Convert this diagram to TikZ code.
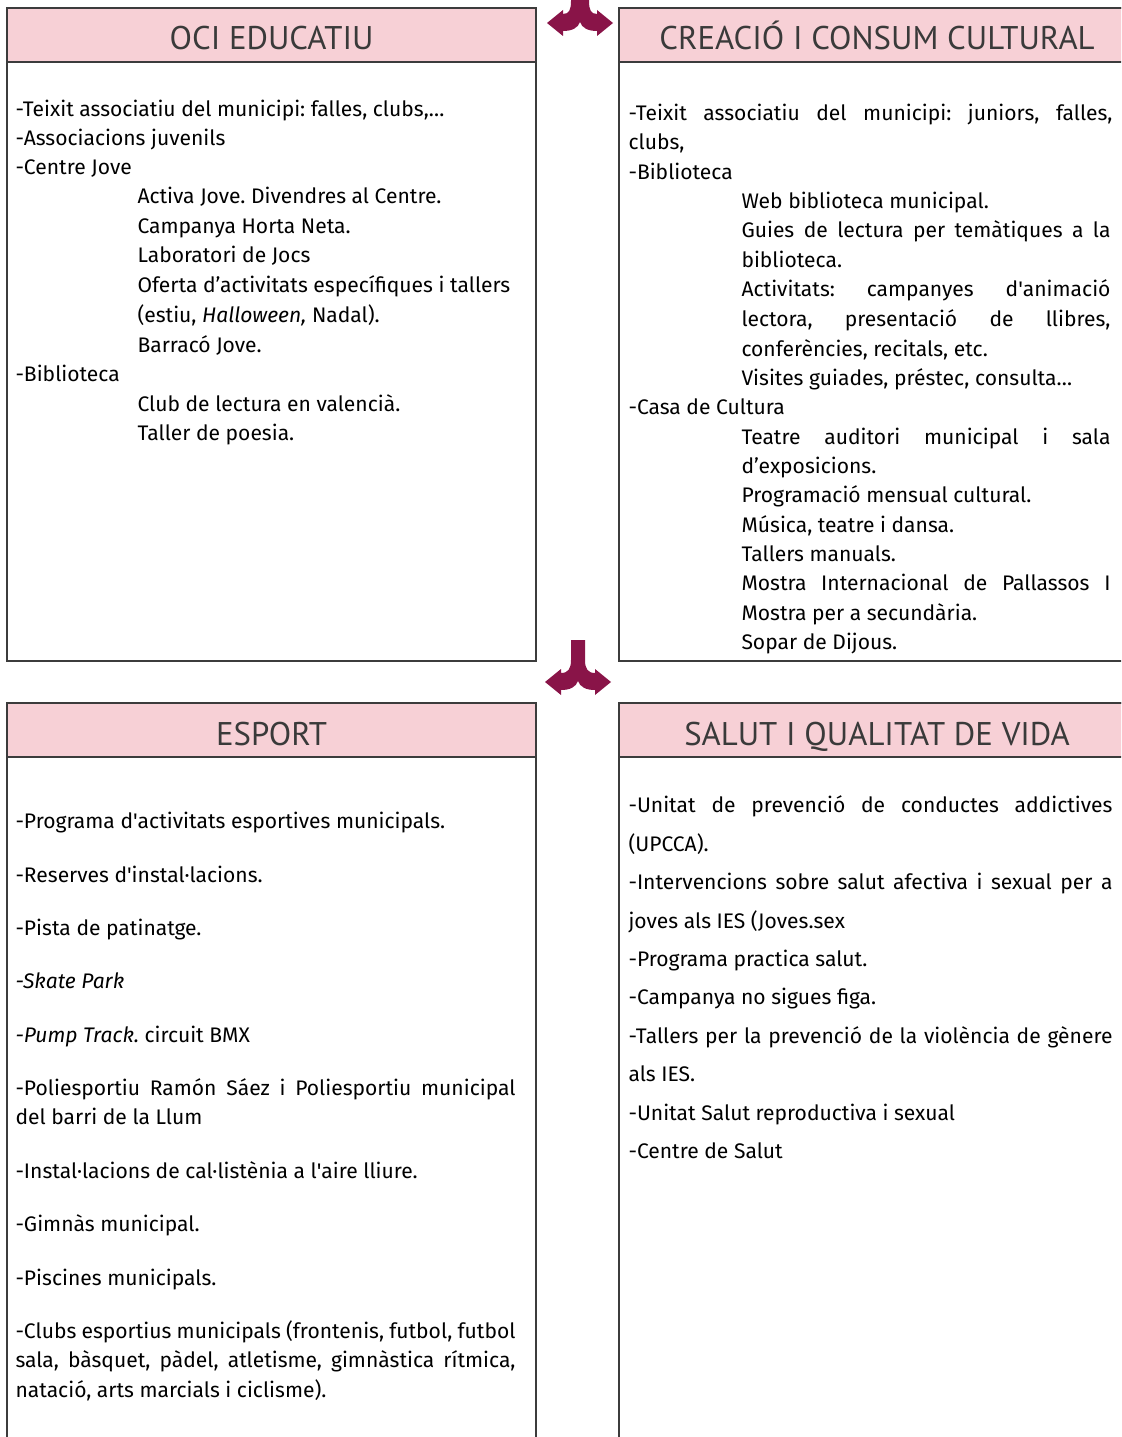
\documentclass[tikz,border=0pt]{standalone}
\usepackage{fontspec}
\setmainfont{PT Sans}
\newfontfamily\bodyfont{Fira Sans}
\usetikzlibrary{positioning}

\definecolor{headpink}{RGB}{247,208,214}
\definecolor{arrowred}{RGB}{137,20,72}
\definecolor{framegray}{RGB}{60,60,60}
\definecolor{headtext}{RGB}{58,58,58}

\tikzset{every picture/.style={line width=0.75pt}}
\tikzset{
  item/.style={anchor=base west, inner sep=0pt, font=\bodyfont\fontsize{15.8}{19}\selectfont\frenchspacing},
  headtitle/.style={anchor=base, inner sep=0pt, text=headtext, font=\fontsize{24.6}{30}\selectfont},
  panel/.style={draw=framegray, line width=1.1pt},
}

\begin{document}
\begin{tikzpicture}[x=0.75pt,y=0.75pt,yscale=-1,xscale=1]
		\useasboundingbox (0,0) rectangle (1121,1437);
		\clip (0,0) rectangle (1121,1437);

		%Shape: Rectangle [id:oci]
		\draw [panel, fill=white] (7,8) rectangle (536,661) ;
		\draw [panel, fill=headpink] (7,8) rectangle (536,62) ;
		%Shape: Rectangle [id:cultura]
		\draw [panel, fill=white] (619,8) rectangle (1135,661) ;
		\draw [panel, fill=headpink] (619,8) rectangle (1135,62) ;
		%Shape: Rectangle [id:esport]
		\draw [panel, fill=white] (7,703) rectangle (536,1450) ;
		\draw [panel, fill=headpink] (7,703) rectangle (536,757) ;
		%Shape: Rectangle [id:salut]
		\draw [panel, fill=white] (619,703) rectangle (1135,1450) ;
		\draw [panel, fill=headpink] (619,703) rectangle (1135,757) ;

		%Shape: Split Arrow [id:top]
		\fill [arrowred, shift={(580,23)}] (-9,-40) -- (9,-40) -- (9,-22) .. controls (9,-13) and (11,-9) .. (17,-9) -- (17,-13) -- (33,0) -- (17,13) -- (17,8) .. controls (8,8) and (2,5) .. (0,-1) .. controls (-2,5) and (-8,8) .. (-17,8) -- (-17,13) -- (-33,0) -- (-17,-13) -- (-17,-9) .. controls (-11,-9) and (-9,-13) .. (-9,-22) -- cycle ;
		%Shape: Split Arrow [id:middle]
		\fill [arrowred, shift={(578,682)}] (-7,-42) -- (7,-42) -- (7,-22) .. controls (7,-13) and (10,-9) .. (17,-9) -- (17,-13) -- (33,0) -- (17,13) -- (17,8) .. controls (8,8) and (2,5) .. (0,-1) .. controls (-2,5) and (-8,8) .. (-17,8) -- (-17,13) -- (-33,0) -- (-17,-13) -- (-17,-9) .. controls (-10,-9) and (-7,-13) .. (-7,-22) -- cycle ;

		% Text Node
		\draw (271.5,50) node [headtitle] (ociTitle) {OCI EDUCATIU};
		% Text Node
		\draw (877,50) node [headtitle] (culTitle) {CREACIÓ I CONSUM CULTURAL};
		% Text Node
		\draw (271.5,745) node [headtitle] (espTitle) {ESPORT};
		% Text Node
		\draw (877,745) node [headtitle] (salTitle) {SALUT I QUALITAT DE VIDA};

		% Text Node
		\draw (15,117) node [item] (oci1) {-Teixit associatiu del municipi: falles, clubs,…};
		\draw (15,146) node [item] (oci2) {-Associacions juvenils};
		\draw (15,175) node [item] (oci3) {-Centre Jove};
		\draw (137,204) node [item] (oci4) {Activa Jove. Divendres al Centre.};
		\draw (137,234) node [item] (oci5) {Campanya Horta Neta.};
		\draw (137,263) node [item] (oci6) {Laboratori de Jocs};
		\draw (137,293) node [item] (oci7) {Oferta d’activitats específiques i tallers};
		\draw (137,323) node [item] (oci8) {(estiu, \textit{Halloween,} Nadal).};
		\draw (137,352) node [item] (oci9) {Barracó Jove.};
		\draw (15,381) node [item] (oci10) {-Biblioteca};
		\draw (137,411) node [item] (oci11) {Club de lectura en valencià.};
		\draw (137,440) node [item] (oci12) {Taller de poesia.};

		% Text Node
		\draw (628,121) node [item] (cul1) {\makebox[363pt][s]{-Teixit associatiu del municipi: juniors, falles,}};
		\draw (628,150) node [item] (cul2) {clubs,};
		\draw (628,180) node [item] (cul3) {-Biblioteca};
		\draw (741,209) node [item] (cul4) {Web biblioteca municipal.};
		\draw (741,238) node [item] (cul5) {\makebox[276.75pt][s]{Guies de lectura per temàtiques a la}};
		\draw (741,268) node [item] (cul6) {biblioteca.};
		\draw (741,297) node [item] (cul7) {\makebox[276.75pt][s]{Activitats: campanyes d\textquotesingle animació}};
		\draw (741,326) node [item] (cul8) {\makebox[276.75pt][s]{lectora, presentació de llibres,}};
		\draw (741,356) node [item] (cul9) {conferències, recitals, etc.};
		\draw (741,385) node [item] (cul10) {Visites guiades, préstec, consulta…};
		\draw (628,414) node [item] (cul11) {-Casa de Cultura};
		\draw (741,444) node [item] (cul12) {\makebox[276.75pt][s]{Teatre auditori municipal i sala}};
		\draw (741,473) node [item] (cul13) {d’exposicions.};
		\draw (741,502) node [item] (cul14) {Programació mensual cultural.};
		\draw (741,532) node [item] (cul15) {Música, teatre i dansa.};
		\draw (741,561) node [item] (cul16) {Tallers manuals.};
		\draw (741,590) node [item] (cul17) {\makebox[276.75pt][s]{Mostra Internacional de Pallassos I}};
		\draw (741,620) node [item] (cul18) {Mostra per a secundària.};
		\draw (741,649) node [item] (cul19) {Sopar de Dijous.};

		% Text Node
		\draw (15,828) node [item] (esp1) {-Programa d\textquotesingle activitats esportives municipals.};
		\draw (15,882) node [item] (esp2) {-Reserves d\textquotesingle instal·lacions.};
		\draw (15,935) node [item] (esp3) {-Pista de patinatge.};
		\draw (15,988) node [item] (esp4) {\textit{-Skate Park}};
		\draw (15,1042) node [item] (esp5) {\textit{-Pump Track.} circuit BMX};
		\draw (15,1095) node [item] (esp6) {\makebox[375pt][s]{-Poliesportiu Ramón Sáez i Poliesportiu municipal}};
		\draw (15,1124) node [item] (esp7) {del barri de la Llum};
		\draw (15,1178) node [item] (esp8) {-Instal·lacions de cal·listènia a l\textquotesingle aire lliure.};
		\draw (15,1231) node [item] (esp9) {-Gimnàs municipal.};
		\draw (15,1285) node [item] (esp10) {-Piscines municipals.};
		\draw (15,1338) node [item] (esp11) {\makebox[375pt][s]{-Clubs esportius municipals (frontenis, futbol, futbol}};
		\draw (15,1367) node [item] (esp12) {\makebox[375pt][s]{sala, bàsquet, pàdel, atletisme, gimnàstica rítmica,}};
		\draw (15,1397) node [item] (esp13) {natació, arts marcials i ciclisme).};

		% Text Node
		\draw (628,812) node [item] (sal1) {\makebox[363pt][s]{-Unitat de prevenció de conductes addictives}};
		\draw (628,851) node [item] (sal2) {(UPCCA).};
		\draw (628,889) node [item] (sal3) {\makebox[363pt][s]{-Intervencions sobre salut afectiva i sexual per a}};
		\draw (628,928) node [item] (sal4) {joves als IES (Joves.sex};
		\draw (628,966) node [item] (sal5) {-Programa practica salut.};
		\draw (628,1004) node [item] (sal6) {-Campanya no sigues figa.};
		\draw (628,1043) node [item] (sal7) {\makebox[363pt][s]{-Tallers per la prevenció de la violència de gènere}};
		\draw (628,1081) node [item] (sal8) {als IES.};
		\draw (628,1120) node [item] (sal9) {-Unitat Salut reproductiva i sexual};
		\draw (628,1158) node [item] (sal10) {-Centre de Salut};

\end{tikzpicture}
\end{document}
